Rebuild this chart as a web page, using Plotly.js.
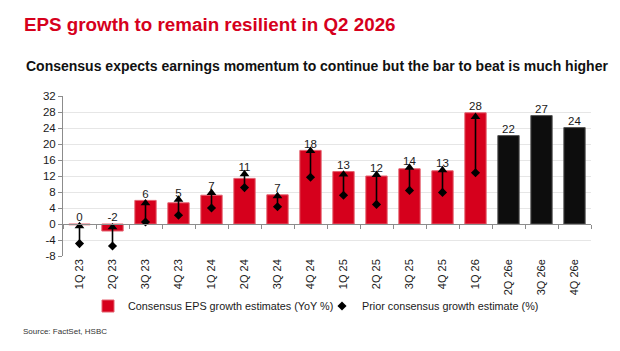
<!DOCTYPE html>
<html>
<head>
<meta charset="utf-8">
<script src="https://cdn.plot.ly/plotly-3.0.1.min.js"></script>
<style>
  html, body { margin: 0; padding: 0; background: #fff; }
  #chart { width: 620px; height: 351px; }
</style>
</head>
<body>
<div id="chart"></div>
<script>
// ---- data ----
const categories = ['1Q 23','2Q 23','3Q 23','4Q 23','1Q 24','2Q 24','3Q 24','4Q 24',
                    '1Q 25','2Q 25','3Q 25','4Q 25','1Q 26','2Q 26e','3Q 26e','4Q 26e'];
const consensusGrowth = [-0.2, -1.75, 5.9, 5.3, 7.2, 11.4, 7.3, 18.4,
                         13.1, 12.0, 13.8, 13.3, 27.8, 22.1, 27.1, 24.1];
const priorEstimate   = [-4.9, -5.5, 0.5, 2.2, 4.0, 9.1, 4.3, 11.7,
                         7.2, 4.9, 8.4, 7.9, 12.8, null, null, null];
const arrowTip        = [-0.5, -0.8, 5.2, 6.1, 7.8, 12.5, 7.0, 18.3,
                         12.4, 12.3, 14.1, 13.5, 26.8, null, null, null];
const yTickVals = [-8, -4, 0, 4, 8, 12, 16, 20, 24, 28, 32];

const RED = '#d6001c';
const BLACK = '#0d0d0d';
const FONT = '"Liberation Sans", Arial, sans-serif';

const isEstimate = categories.map(c => /e$/.test(c));
const barColors = isEstimate.map(e => e ? BLACK : RED);
const barLines = isEstimate.map(e => e ? '#555' : '#e4606e');
const labelY = consensusGrowth.map((v, i) => Math.max(v, arrowTip[i] == null ? v : arrowTip[i], 0));
const labelText = consensusGrowth.map(v => String(Math.round(v) === 0 ? 0 : Math.round(v)));

const bars = {
  type: 'bar', x: categories, y: consensusGrowth,
  name: 'Consensus EPS growth estimates (YoY %)', legend: 'legend',
  marker: { color: barColors, line: { color: barLines, width: 1 } },
  hoverinfo: 'x+y'
};
const connectors = {
  type: 'scatter', mode: 'markers', x: categories, y: arrowTip,
  xaxis: 'x2', yaxis: 'y',
  marker: { symbol: 'triangle-up', size: 8.5, color: '#000' },
  error_y: { type: 'data', symmetric: false,
             array: arrowTip.map(() => 0),
             arrayminus: arrowTip.map((t, i) => t == null ? null : t - priorEstimate[i]),
             color: '#000', thickness: 1.6, width: 0 },
  showlegend: false, hoverinfo: 'skip'
};
const prior = {
  type: 'scatter', mode: 'markers', x: categories, y: priorEstimate,
  name: 'Prior consensus growth estimate (%)', legend: 'legend2',
  marker: { symbol: 'diamond', size: 7, color: '#000' }
};
const labels = {
  type: 'scatter', mode: 'text', x: categories, y: labelY, text: labelText,
  textposition: 'top center', textfont: { family: FONT, size: 11.5, color: '#1a1a1a' },
  showlegend: false, hoverinfo: 'skip'
};

const legendBase = {
  orientation: 'h', xref: 'container', yref: 'container',
  xanchor: 'left', y: 1 - 306 / 351, yanchor: 'middle',
  font: { family: FONT, size: 10.8, color: '#1a1a1a' },
  bgcolor: 'rgba(0,0,0,0)', itemwidth: 30
};

const layout = {
  width: 620, height: 351,
  margin: { l: 63, r: 29, t: 96, b: 95 },
  paper_bgcolor: '#fff', plot_bgcolor: '#fff',
  font: { family: FONT, size: 12, color: '#1a1a1a' },
  bargap: 0.354,
  showlegend: true,
  title: {
    text: '<b>EPS growth to remain resilient in Q2 2026</b>',
    font: { family: FONT, size: 18.8, color: RED },
    xref: 'container', yref: 'container', x: 24/620, xanchor: 'left',
    y: 1 - 24/351, yanchor: 'middle'
  },
  xaxis: {
    type: 'category', categoryorder: 'array', categoryarray: categories,
    range: [-0.5, categories.length - 0.5],
    showline: false, showgrid: false, zeroline: false, ticks: '',
    tickangle: -90, tickfont: { family: FONT, size: 11, color: '#1a1a1a' },
    fixedrange: true
  },
  xaxis2: {
    type: 'category', categoryorder: 'array', categoryarray: categories,
    range: [-0.5, categories.length - 0.5],
    overlaying: 'x', anchor: 'free', position: (0 - (-8)) / 40,
    showline: true, linecolor: '#8c8c8c', linewidth: 1,
    ticks: 'outside', tickson: 'boundaries', ticklen: 4, tickcolor: '#8c8c8c', tickwidth: 1,
    showticklabels: false, showgrid: false, zeroline: false, fixedrange: true
  },
  yaxis: {
    range: [-8, 32], tickvals: yTickVals, ticktext: yTickVals.map(String),
    showline: true, linecolor: '#8c8c8c', linewidth: 1,
    ticks: 'outside', ticklen: 4, tickcolor: '#8c8c8c',
    showgrid: true, gridcolor: '#e6e6e6', gridwidth: 1, zeroline: false,
    tickfont: { family: FONT, size: 11.5, color: '#1a1a1a' }, fixedrange: true
  },
  legend: Object.assign({}, legendBase, { x: 88 / 620 }),
  legend2: Object.assign({}, legendBase, { x: 322 / 620 }),
  annotations: [
    { text: '<b>Consensus expects earnings momentum to continue but the bar to beat is much higher</b>',
      xref: 'paper', yref: 'paper', x: (24 - 63) / 528, y: (256 - 65.5) / 160,
      xanchor: 'left', yanchor: 'middle', showarrow: false,
      font: { family: FONT, size: 14, color: '#111' } },
    { text: 'Source: FactSet, HSBC',
      xref: 'paper', yref: 'paper', x: (21 - 63) / 528, y: (256 - 331) / 160,
      xanchor: 'left', yanchor: 'middle', showarrow: false,
      font: { family: FONT, size: 8, color: '#333' } }
  ]
};

Plotly.newPlot('chart', [bars, connectors, prior, labels], layout, { displayModeBar: false, staticPlot: true });
</script>
</body>
</html>
